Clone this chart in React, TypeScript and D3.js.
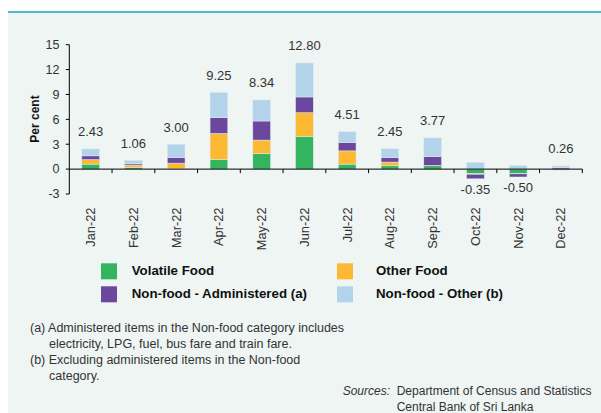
import React from "react";
import * as d3 from "d3";

const months = ["Jan-22", "Feb-22", "Mar-22", "Apr-22", "May-22", "Jun-22", "Jul-22", "Aug-22", "Sep-22", "Oct-22", "Nov-22", "Dec-22"];
const volatileFood = [0.60, 0.20, 0.05, 1.15, 1.85, 3.90, 0.60, 0.40, 0.40, -0.55, -0.55, 0.02];
const otherFood = [0.55, 0.30, 0.67, 3.15, 1.65, 2.90, 1.60, 0.45, 0.05, -0.07, -0.02, -0.12];
const nonFoodAdmin = [0.45, 0.15, 0.68, 1.90, 2.30, 1.90, 1.00, 0.55, 1.07, -0.55, -0.38, 0.16];
const nonFoodOther = [0.83, 0.41, 1.60, 3.05, 2.54, 4.10, 1.31, 1.05, 2.25, 0.82, 0.45, 0.20];
const totals = [2.43, 1.06, 3.00, 9.25, 8.34, 12.80, 4.51, 2.45, 3.77, -0.35, -0.50, 0.26];
const yTicks = [-3, 0, 3, 6, 9, 12, 15];

const seriesKeys = ["vf", "of", "na", "no"];
const seriesNames = ["Volatile Food", "Other Food", "Non-food - Administered (a)", "Non-food - Other (b)"];
const seriesColors = ["#33b560", "#fdb933", "#6b479e", "#b3d3ea"];

const footnotes = [
  { x: 30, text: "(a) Administered items in the Non-food category includes" },
  { x: 49, text: "electricity, LPG, fuel, bus fare and train fare." },
  { x: 30, text: "(b) Excluding administered items in the Non-food" },
  { x: 49, text: "category." },
];

const FONT = "'Liberation Sans', Arial, sans-serif";

export default function App() {
  const W = 601, H = 413;
  const x = d3.scaleBand<string>().domain(months).range([69.3, 582.3]).padding(0);
  const y = d3.scaleLinear().domain([-3, 15]).range([194, 44.7]);
  const barW = 17.7;

  const table = months.map((m, i) => ({
    month: m,
    vf: volatileFood[i],
    of: otherFood[i],
    na: nonFoodAdmin[i],
    no: nonFoodOther[i],
  }));
  const stacked = d3.stack<any>().keys(seriesKeys).offset(d3.stackOffsetDiverging)(table);

  const tops = months.map((_, i) => d3.max(stacked, (s) => s[i][1]) as number);
  const bottoms = months.map((_, i) => d3.min(stacked, (s) => s[i][0]) as number);

  const x0 = x.range()[0], x1 = x.range()[1];
  const boundaries = months.map((m) => (x(m) as number) + x.bandwidth());

  return (
    <svg width={W} height={H} style={{ position: "absolute", left: 0, top: 0 }} fontFamily={FONT}>
      <rect x={0} y={0} width={W} height={H} fill="#ffffff" />
      <rect x={8} y={12} width={W - 8} height={H - 12} fill="#eef5f3" />
      <line x1={8} x2={W} y1={12} y2={12} stroke="#4dbac8" strokeWidth={2} />

      {stacked.map((s, si) => (
        <g key={si} fill={seriesColors[si]}>
          {s.map((d, i) => {
            const ya = y(d[0]), yb = y(d[1]);
            const cx = (x(months[i]) as number) + x.bandwidth() / 2;
            return (
              <rect key={i} x={cx - barW / 2} y={Math.min(ya, yb)} width={barW} height={Math.abs(ya - yb)}
                stroke="#dfeaf0" strokeWidth={0.5} />
            );
          })}
        </g>
      ))}

      {/* axes */}
      <line x1={x0} x2={x1} y1={y(0)} y2={y(0)} stroke="#000" strokeWidth={1} />
      {boundaries.map((b, i) => (
        <line key={i} x1={b} x2={b} y1={y(0)} y2={y(0) + 4} stroke="#000" strokeWidth={1} />
      ))}
      <line x1={x0} x2={x0} y1={y(-3)} y2={y(15)} stroke="#000" strokeWidth={1} />
      {yTicks.map((t) => (
        <g key={t}>
          <line x1={x0 - 3.5} x2={x0} y1={y(t)} y2={y(t)} stroke="#000" strokeWidth={1} />
          <text x={59.5} y={y(t)} dy="0.35em" textAnchor="end" fontSize={12.5} fill="#333">{t}</text>
        </g>
      ))}
      <text transform={`translate(38.5,119) rotate(-90)`} textAnchor="middle" fontSize={12} fontWeight="bold" fill="#111">Per cent</text>

      {months.map((m, i) => {
        const cx = (x(m) as number) + x.bandwidth() / 2;
        return (
          <text key={m} transform={`translate(${cx},207.5) rotate(-90)`} textAnchor="end" dy="0.35em" fontSize={12.8} fill="#333">{m}</text>
        );
      })}

      {months.map((m, i) => {
        const cx = (x(m) as number) + x.bandwidth() / 2;
        const ty = totals[i] >= 0 ? y(tops[i]) - 12.5 : y(bottoms[i]) + 15;
        return (
          <text key={"l" + m} x={cx} y={ty} textAnchor="middle" fontSize={13} fill="#333">{totals[i].toFixed(2)}</text>
        );
      })}

      {/* legend */}
      {seriesNames.map((n, i) => {
        const col = i % 2, row = Math.floor(i / 2);
        const sx = col === 0 ? 101 : 337;
        const tx = col === 0 ? 131.7 : 376;
        const sy = 263.3 + row * 23;
        return (
          <g key={n}>
            <rect x={sx} y={sy} width={16} height={16} fill={seriesColors[i]} />
            <text x={tx} y={sy + 7.5} dy="0.35em" fontSize={13.3} fontWeight="bold" fill="#111">{n}</text>
          </g>
        );
      })}

      {footnotes.map((f, i) => (
        <text key={i} x={f.x} y={331.8 + i * 16} fontSize={12.5} fill="#333">{f.text}</text>
      ))}
      <text x={342.7} y={395} fontSize={12} fill="#333" fontStyle="italic">Sources:</text>
      <text x={396.7} y={395} fontSize={12} fill="#333">Department of Census and Statistics</text>
      <text x={396.7} y={410.5} fontSize={12} fill="#333">Central Bank of Sri Lanka</text>
    </svg>
  );
}
